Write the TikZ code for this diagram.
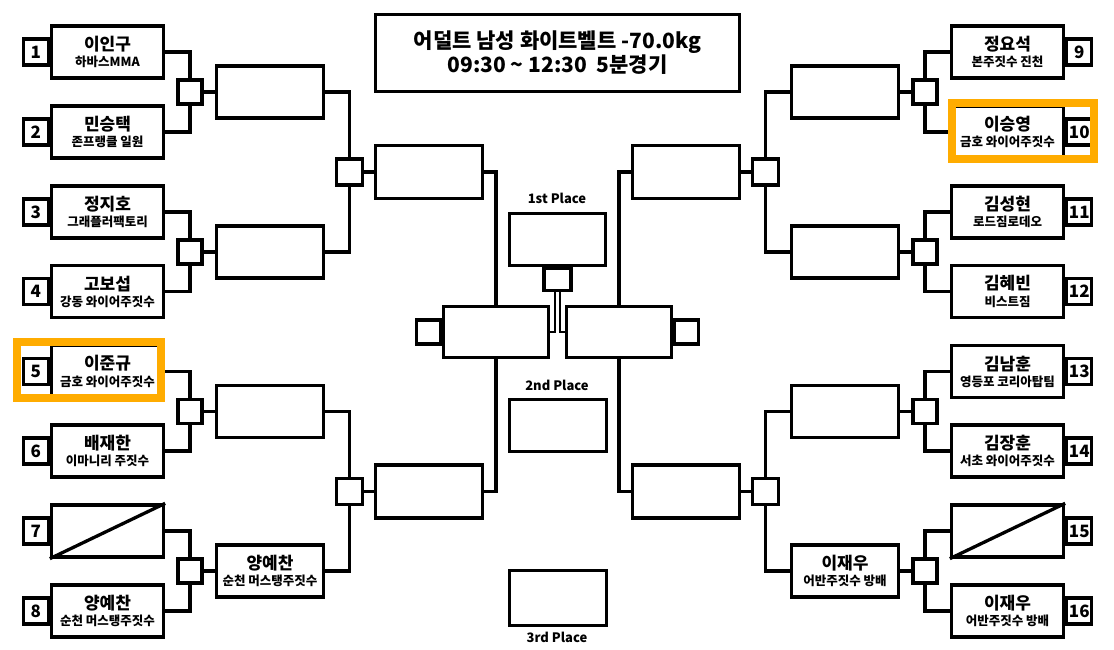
\documentclass[tikz,border=0pt]{standalone}
\usepackage{fontspec}
\setmainfont{Noto Sans CJK KR}
\usepackage{tikz}
\usetikzlibrary{positioning}
\definecolor{hl_orange}{RGB}{255,172,0}
\newcommand{\namefont}{\fontsize{17}{19}\selectfont}
\newcommand{\clubfont}{\fontsize{12.5}{15}\selectfont}

\begin{document}
\begin{tikzpicture}[x=1pt, y=-1pt, font=\bfseries,
		box_style/.style={rectangle,draw=black,line width=3.3pt,fill=white,minimum width=112pt,minimum height=52pt,inner sep=0pt,align=center},
		num_style/.style={rectangle,draw=black,line width=3.3pt,fill=white,minimum width=25pt,minimum height=26pt,inner sep=0pt,font=\bfseries\fontsize{17}{17}\selectfont},
		sq_style/.style={rectangle,draw=black,line width=3.3pt,fill=white,minimum width=24pt,minimum height=24pt,inner sep=0pt},
		place_style/.style={font=\bfseries\fontsize{13}{13}\selectfont},
		edge_style/.style={draw=black,line width=3.3pt},
		hl_style/.style={draw=hl_orange,line width=8pt}]

		\useasboundingbox (0,0) rectangle (1114,650);

		% title
		\node[box_style,minimum width=364pt,minimum height=77pt,font=\bfseries\fontsize{21}{24}\selectfont] (title) at (557.5,53) {어덜트 남성 화이트벨트 -70.0kg\\09:30 \textasciitilde\ 12:30\ \ 5분경기};

		% left players
		\node[box_style] (p1) at (107.5,52)  {{\namefont 이인구}\\[3pt]{\clubfont 하바스MMA}};
		\node[box_style] (p2) at (107.5,132) {{\namefont 민승택}\\[3pt]{\clubfont 존프랭클 일원}};
		\node[box_style] (p3) at (107.5,212) {{\namefont 정지호}\\[3pt]{\clubfont 그래플러팩토리}};
		\node[box_style] (p4) at (107.5,291.5) {{\namefont 고보섭}\\[3pt]{\clubfont 강동 와이어주짓수}};
		\node[box_style] (p5) at (107.5,371.5) {{\namefont 이준규}\\[3pt]{\clubfont 금호 와이어주짓수}};
		\node[box_style] (p6) at (107.5,451) {{\namefont 배재한}\\[3pt]{\clubfont 이마니리 주짓수}};
		\node[box_style] (p7) at (107.5,531) {};
		\node[box_style] (p8) at (107.5,611) {{\namefont 양예찬}\\[3pt]{\clubfont 순천 머스탱주짓수}};

		% right players
		\node[box_style] (p9)  at (1007.5,52)  {{\namefont 정요석}\\[3pt]{\clubfont 본주짓수 진천}};
		\node[box_style] (p10) at (1007.5,132) {{\namefont 이승영}\\[3pt]{\clubfont 금호 와이어주짓수}};
		\node[box_style] (p11) at (1007.5,212) {{\namefont 김성현}\\[3pt]{\clubfont 로드짐로데오}};
		\node[box_style] (p12) at (1007.5,291.5) {{\namefont 김혜빈}\\[3pt]{\clubfont 비스트짐}};
		\node[box_style] (p13) at (1007.5,371.5) {{\namefont 김남훈}\\[3pt]{\clubfont 영등포 코리아탑팀}};
		\node[box_style] (p14) at (1007.5,451) {{\namefont 김장훈}\\[3pt]{\clubfont 서초 와이어주짓수}};
		\node[box_style] (p15) at (1007.5,531) {};
		\node[box_style] (p16) at (1007.5,611) {{\namefont 이재우}\\[3pt]{\clubfont 어반주짓수 방배}};

		\draw[edge_style] (p7.south west) -- (p7.north east);
		\draw[edge_style] (p15.south west) -- (p15.north east);

		% seed numbers
		\foreach \i in {1,...,8}
			\node[num_style,left=0pt of p\i] (num\i) {\i};
		\foreach \i in {9,...,16}
			\node[num_style,right=0pt of p\i] (num\i) {\i};

		% first round squares
		\node[sq_style] (m1) at (190,92)    {};
		\node[sq_style] (m2) at (190,252)   {};
		\node[sq_style] (m3) at (190,411.5) {};
		\node[sq_style] (m4) at (190,571)   {};
		\node[sq_style] (m5) at (925,92)    {};
		\node[sq_style] (m6) at (925,252)   {};
		\node[sq_style] (m7) at (925,411.5) {};
		\node[sq_style] (m8) at (925,571)   {};

		% second round boxes
		\node[box_style,minimum width=107pt] (w1) at (270,92)    {};
		\node[box_style,minimum width=107pt] (w2) at (270,252)   {};
		\node[box_style,minimum width=107pt] (w3) at (270,411.5) {};
		\node[box_style,minimum width=107pt] (w4) at (270,571)   {{\namefont 양예찬}\\[3pt]{\clubfont 순천 머스탱주짓수}};
		\node[box_style,minimum width=107pt] (w5) at (845,92)    {};
		\node[box_style,minimum width=107pt] (w6) at (845,252)   {};
		\node[box_style,minimum width=107pt] (w7) at (845,411.5) {};
		\node[box_style,minimum width=107pt] (w8) at (845,571)   {{\namefont 이재우}\\[3pt]{\clubfont 어반주짓수 방배}};

		% quarter final squares and boxes
		\node[sq_style,minimum width=26pt,minimum height=26pt] (sq1) at (349.5,172)   {};
		\node[sq_style,minimum width=26pt,minimum height=26pt] (sq2) at (349.5,491.5) {};
		\node[sq_style,minimum width=26pt,minimum height=26pt] (sq3) at (765.5,172)   {};
		\node[sq_style,minimum width=26pt,minimum height=26pt] (sq4) at (765.5,491.5) {};
		\node[box_style,minimum width=107pt,minimum height=53pt] (qf1) at (429,172)   {};
		\node[box_style,minimum width=107pt,minimum height=53pt] (qf2) at (429,491.5) {};
		\node[box_style,minimum width=107pt,minimum height=53pt] (qf3) at (686,172)   {};
		\node[box_style,minimum width=107pt,minimum height=53pt] (qf4) at (686,491.5) {};

		% semi finals and places
		\node[box_style,minimum width=105pt,minimum height=51pt] (sfL) at (496,332) {};
		\node[box_style,minimum width=105pt,minimum height=51pt] (sfR) at (619,332) {};
		\node[num_style,minimum width=24pt,minimum height=24pt,left=0pt of sfL] (sfsqL) {};
		\node[num_style,minimum width=24pt,minimum height=24pt,right=0pt of sfR] (sfsqR) {};
		\node[box_style,minimum width=96pt,minimum height=52pt] (gold) at (557.5,239.5) {};
		\node[sq_style,minimum width=27pt,minimum height=22pt,below=0pt of gold] (fin) {};
		\node[box_style,minimum width=97pt,minimum height=52pt] (silver) at (558,425.5) {};
		\node[box_style,minimum width=97pt,minimum height=55pt] (bronze) at (558,598) {};
		\node[place_style] (l1) at (557,198) {1st Place};
		\node[place_style] (l2) at (557,385) {2nd Place};
		\node[place_style] (l3) at (557,637) {3rd Place};

		% left bracket lines
		\foreach \a/\b/\m in {p1/p2/m1,p3/p4/m2,p5/p6/m3,p7/p8/m4}{
			\draw[edge_style] (\a.east) -| (\m.north);
			\draw[edge_style] (\b.east) -| (\m.south);
		}
		\foreach \m/\w in {m1/w1,m2/w2,m3/w3,m4/w4}
			\draw[edge_style] (\m.east) -- (\w.west);
		\draw[edge_style] (w1.east) -| (sq1.north);
		\draw[edge_style] (w2.east) -| (sq1.south);
		\draw[edge_style] (w3.east) -| (sq2.north);
		\draw[edge_style] (w4.east) -| (sq2.south);
		\draw[edge_style] (sq1.east) -- (qf1.west);
		\draw[edge_style] (sq2.east) -- (qf2.west);
		\draw[edge_style] (qf1.east) -| (sfL.north);
		\draw[edge_style] (qf2.east) -| (sfL.south);

		% right bracket lines
		\foreach \a/\b/\m in {p9/p10/m5,p11/p12/m6,p13/p14/m7,p15/p16/m8}{
			\draw[edge_style] (\a.west) -| (\m.north);
			\draw[edge_style] (\b.west) -| (\m.south);
		}
		\foreach \m/\w in {m5/w5,m6/w6,m7/w7,m8/w8}
			\draw[edge_style] (\m.west) -- (\w.east);
		\draw[edge_style] (w5.west) -| (sq3.north);
		\draw[edge_style] (w6.west) -| (sq3.south);
		\draw[edge_style] (w7.west) -| (sq4.north);
		\draw[edge_style] (w8.west) -| (sq4.south);
		\draw[edge_style] (sq3.west) -- (qf3.east);
		\draw[edge_style] (sq4.west) -- (qf4.east);
		\draw[edge_style] (qf3.west) -| (sfR.north);
		\draw[edge_style] (qf4.west) -| (sfR.south);

		% final
		\draw[edge_style,line width=2.5pt] (sfL.east) -| ([xshift=-2.5pt]fin.south);
		\draw[edge_style,line width=2.5pt] (sfR.west) -| ([xshift=2.5pt]fin.south);

		% highlights
		\draw[hl_style] (17,342) rectangle (161,398);
		\draw[hl_style] (952,103) rectangle (1094,159);
\end{tikzpicture}
\end{document}
